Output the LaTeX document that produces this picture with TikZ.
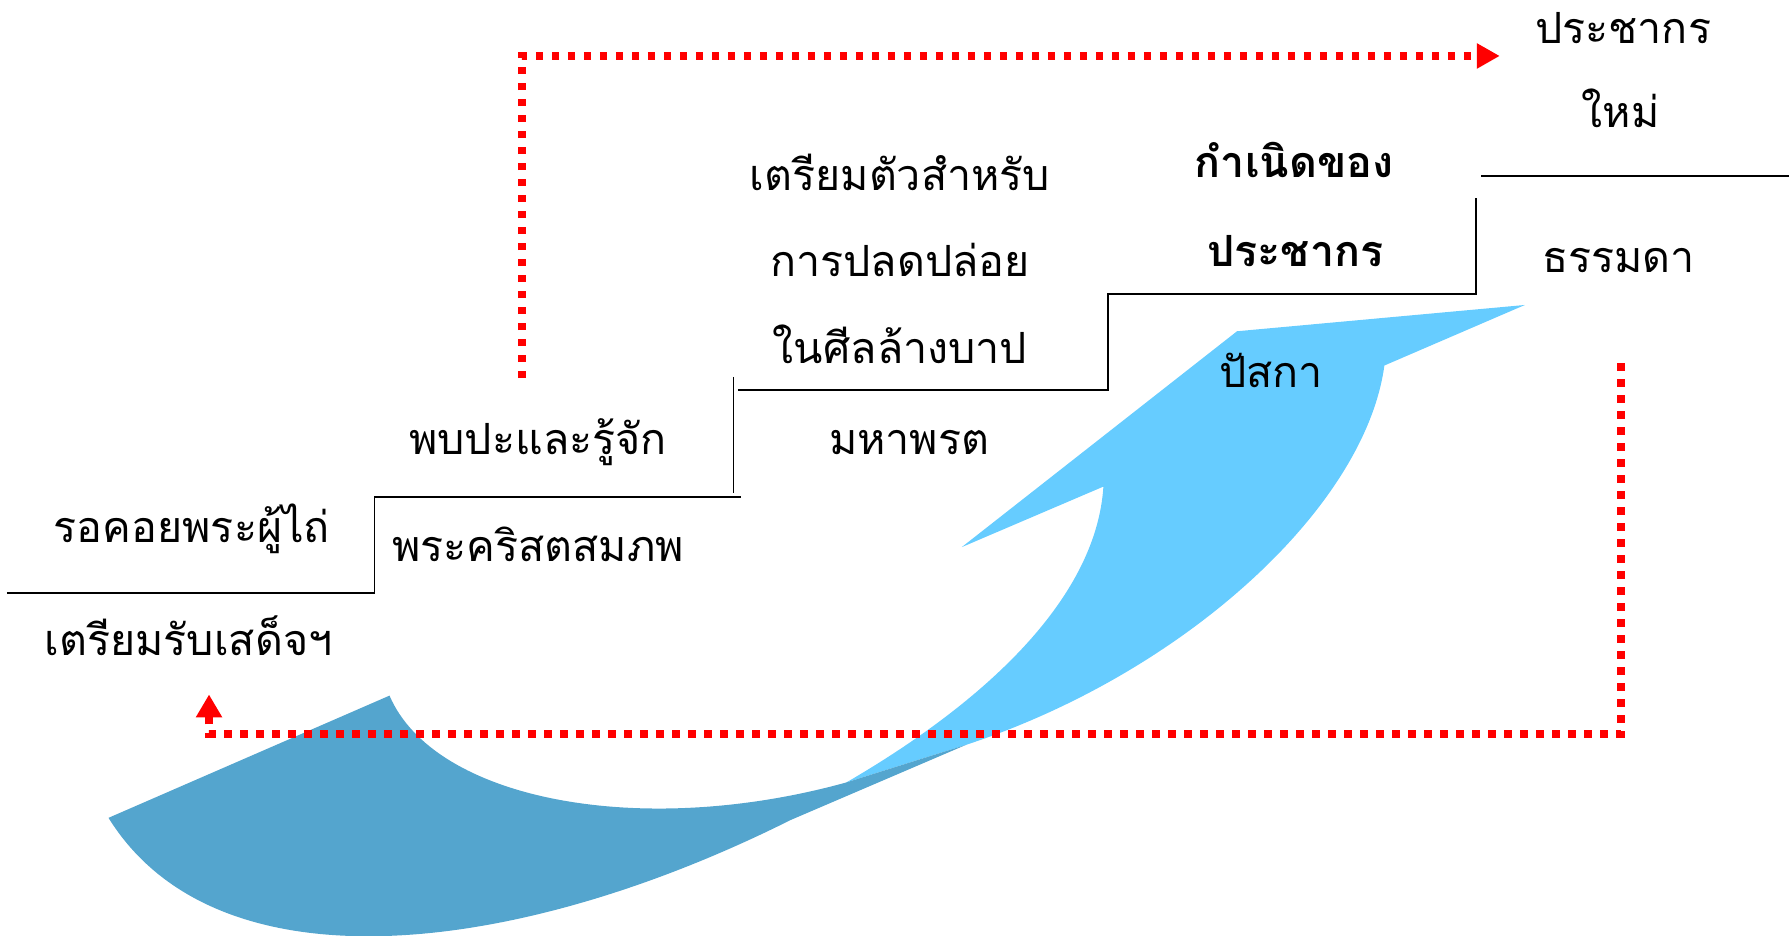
\documentclass[tikz,border=0pt]{standalone}
\usepackage{fontspec}
\newfontfamily\thaifont[Script=Thai]{Loma}
\usepackage{tikz}
\usetikzlibrary{arrows.meta,shapes}
\definecolor{lightblue}{RGB}{102,204,255}
\definecolor{darkblue}{RGB}{84,165,206}
\tikzstyle{caption}=[font=\thaifont\fontsize{43}{50}\selectfont, anchor=base, inner sep=0pt]
\tikzstyle{bold caption}=[caption, font=\thaifont\bfseries\fontsize{43}{50}\selectfont]
\tikzstyle{stair edge}=[draw, line width=1.6pt, -]
\tikzstyle{return path}=[draw, red, line width=7.5pt, dash pattern=on 7.3pt off 8.7pt]

\begin{document}
\begin{tikzpicture}[x=1.1423pt, y=-1.1423pt]
		\useasboundingbox (0,0) rectangle (1568,819.4);
		
		% First we draw the two blue arrows
		\fill[lightblue] (966,426) -- (842,479) -- (1083,290) -- (1335,267) -- (1212,320)
		.. controls (1195,445) and (1035,590) .. (846,652) -- (741,685)
		.. controls (870,610) and (960,520) .. (966,426) -- cycle;
		\fill[darkblue] (341,609) .. controls (380,700) and (560,735) .. (741,685)
		-- (846,652) -- (692,718) .. controls (452,838) and (190,869) .. (95,716) -- cycle;
		
		% The steps
		\path[stair edge] (6,519) -- (328,519) -- (328,435) -- (649,435);
		\path[stair edge] (642,330) -- (642,432);
		\path[stair edge] (646,341.5) -- (970,341.5) -- (970,257.5) -- (1292,257.5) -- (1292,173);
		\path[stair edge] (1297,154) -- (1566,154);
		
		% Then the texts on the steps
		\foreach \pos/\name/\txt in {
			{(168,475)/wait/รอคอยพระผู้ไถ่}, {(165,574)/advent/เตรียมรับเสด็จฯ},
			{(471,397.5)/meet/พบปะและรู้จัก}, {(471,492)/christmas/พระคริสตสมภพ},
			{(788,167)/prep/เตรียมตัวสำหรับ}, {(788,242)/release/การปลดปล่อย},
			{(788,318)/baptism/ในศีลล้างบาป}, {(796,397.5)/lent/มหาพรต},
			{(1113,339)/easter/ปัสกา}, {(1421,38)/newpeople/ประชากร},
			{(1419,112)/newword/ใหม่}, {(1417,239)/ordinary/ธรรมดา}}
		\node[caption] (\name) at \pos {\txt};
		
		\foreach \pos/\name/\txt in {{(1133,155)/birth/กำเนิดของ}, {(1134,233)/people/ประชากร}}
		\node[bold caption] (\name) at \pos {\txt};
		
		% Red dotted returns
		\coordinate (up start) at (457,331);
		\coordinate (up corner) at (457,49);
		\coordinate (up end) at (1313,49);
		\coordinate (back start) at (1419,318);
		\coordinate (back corner) at (1419,642.5);
		\coordinate (back turn) at (183,642.5);
		\coordinate (back end) at (183,608);
		\path[return path, -{Triangle[length=23pt,width=24pt]}] (up start) -- (up corner) -- (up end);
		\path[return path, -{Triangle[length=23pt,width=25pt]}] (back start) -- (back corner) -- (back turn) -- (back end);
\end{tikzpicture}
\end{document}
